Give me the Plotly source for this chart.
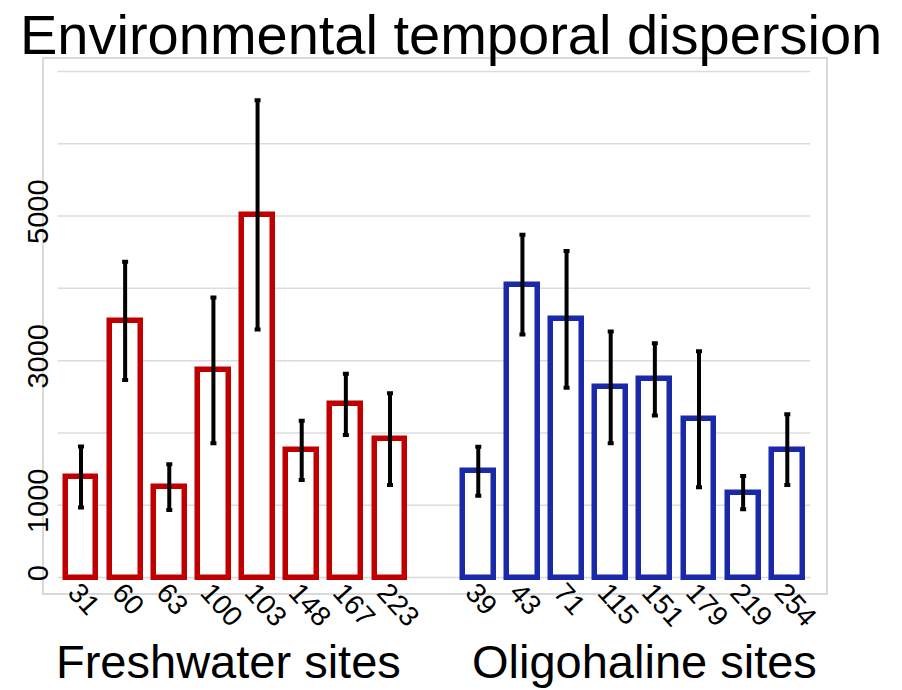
import plotly.graph_objects as go

# ---- data ----
fresh_sites = ["31", "60", "63", "100", "103", "148", "167", "223"]
fresh_values = [1390, 3550, 1250, 2865, 5015, 1760, 2395, 1915]
fresh_err = [422, 818, 316, 1007, 1585, 410, 422, 635]

oligo_sites = ["39", "43", "71", "115", "151", "179", "219", "254"]
oligo_values = [1470, 4050, 3570, 2630, 2740, 2190, 1175, 1770]
oligo_err = [340, 690, 945, 772, 500, 940, 230, 490]

y_ticks_shown = [0, 1000, 3000, 5000]
grid_values = [0, 1000, 2000, 3000, 4000, 5000, 6000, 7000]

group_labels = ["Freshwater sites", "Oligohaline sites"]
title_text = "Environmental temporal dispersion"

# ---- positions (one empty slot between the groups) ----
fresh_x = list(range(len(fresh_sites)))
oligo_x = [len(fresh_sites) + 1 + i for i in range(len(oligo_sites))]
n_slots = len(fresh_sites) + 1 + len(oligo_sites)

RED = "#C00000"
BLUE = "#1A29A8"
FONT = "Liberation Sans, Arial, sans-serif"

fig = go.Figure()
for xs, vals, errs, col in [(fresh_x, fresh_values, fresh_err, RED),
                            (oligo_x, oligo_values, oligo_err, BLUE)]:
    fig.add_trace(go.Bar(
        x=xs, y=vals, width=0.7,
        marker=dict(color="white", line=dict(color=col, width=5.5)),
        error_y=dict(type="data", array=errs, color="black", thickness=4, width=3),
        showlegend=False,
    ))

# horizontal gridlines
for g in grid_values:
    fig.add_shape(type="line", xref="x", yref="y",
                  x0=-0.53, x1=n_slots - 1 + 0.52, y0=g, y1=g,
                  line=dict(color="#DCDCDC", width=1.5), layer="below")

# group labels
group_centers = [3.34, 12.76]
for lab, xc in zip(group_labels, group_centers):
    fig.add_annotation(text=lab, x=xc, xref="x", y=-0.129, yref="paper",
                       showarrow=False, xanchor="center", yanchor="middle",
                       font=dict(family=FONT, size=47, color="black"))

fig.add_annotation(text=title_text, x=0.5205, xref="paper", y=1.045, yref="paper",
                   showarrow=False, xanchor="center", yanchor="middle",
                   font=dict(family=FONT, size=56, color="black"))

fig.update_layout(
    width=902, height=690,
    margin=dict(l=44, r=76, t=59, b=97),
    paper_bgcolor="white", plot_bgcolor="white",
    font=dict(family=FONT, color="black"),
    bargap=0,
)
fig.update_xaxes(
    range=[-0.838, n_slots - 1 + 0.877],
    tickvals=fresh_x + oligo_x, ticktext=fresh_sites + oligo_sites,
    tickangle=48, tickfont=dict(size=28, color="black"),
    ticklabelstandoff=-30, ticklabelshift=-4,
    showgrid=False, zeroline=False, ticks="",
    showline=True, linecolor="#D9D9D9", linewidth=1.5, mirror=True,
)
fig.update_yaxes(
    range=[-214, 7172],
    tickvals=y_ticks_shown, ticktext=[str(v) for v in y_ticks_shown],
    tickangle=-90, tickfont=dict(size=29, color="black"),
    showgrid=False, zeroline=False, ticks="",
    ticklabelstandoff=-17,
    showline=True, linecolor="#D9D9D9", linewidth=1.5, mirror=True,
)

fig.write_html("out.html", config={"displayModeBar": False},
               post_script="document.body.style.margin='0';document.body.style.padding='0';")
